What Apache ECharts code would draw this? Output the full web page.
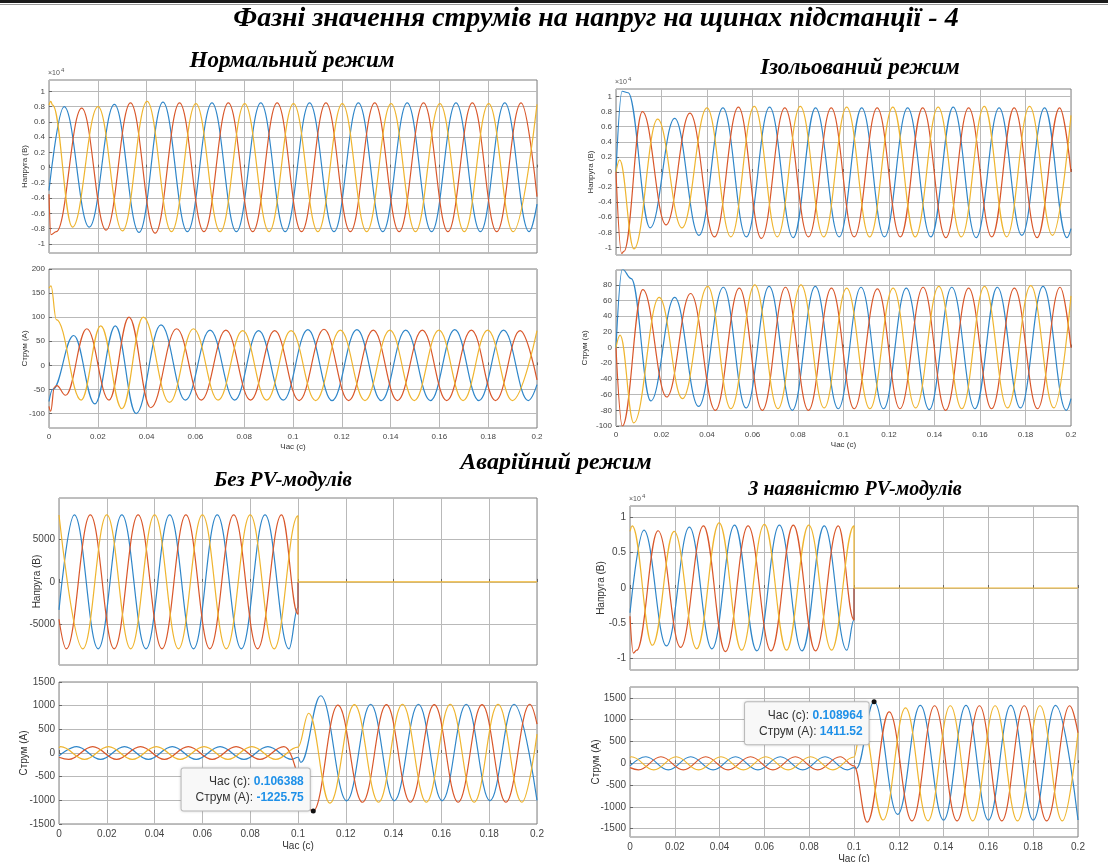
<!DOCTYPE html>
<html>
<head>
<meta charset="utf-8">
<title>Фазні значення струмів на напруг</title>
<script src="https://cdn.jsdelivr.net/npm/echarts@6/dist/echarts.min.js"></script>
<style>
  html, body { margin: 0; padding: 0; background: #fff; }
  #chart { width: 1108px; height: 862px; }
</style>
</head>
<body>
<div id="chart"></div>
<script>
// ---- дані (екстремуми кривих, зчитані з осцилограм) ----
var timeTicks = [0, 0.02, 0.04, 0.06, 0.08, 0.1, 0.12, 0.14, 0.16, 0.18, 0.2];

// Нормальний режим, напруга (x10^4 В)
var normU_a = [[0,-0.3],[0.0062,0.8],[0.0165,-0.78],[0.0268,0.83],[0.0369,-0.85],[0.0467,0.86],[0.0567,-0.84],[0.0668,0.85],[0.0768,-0.84],[0.0868,0.85],[0.0968,-0.84],[0.1068,0.85],[0.1168,-0.84],[0.1268,0.85],[0.1368,-0.84],[0.1468,0.85],[0.1568,-0.84],[0.1668,0.85],[0.1768,-0.84],[0.1868,0.85],[0.1968,-0.84],[0.2,-0.48]];
var normU_b = [[0,-0.35],[0.0008,-0.88],[0.003,-0.84],[0.0134,0.78],[0.0234,-0.82],[0.0334,0.85],[0.0435,-0.86],[0.0535,0.85],[0.0635,-0.84],[0.0735,0.85],[0.0835,-0.84],[0.0935,0.85],[0.1035,-0.84],[0.1135,0.85],[0.1235,-0.84],[0.1335,0.85],[0.1435,-0.84],[0.1535,0.85],[0.1635,-0.84],[0.1735,0.85],[0.1835,-0.84],[0.1935,0.85],[0.2,-0.38]];
var normU_c = [[0,0.82],[0.0007,0.87],[0.0015,0.82],[0.0096,-0.78],[0.0201,0.8],[0.0301,-0.83],[0.0402,0.87],[0.0502,-0.84],[0.0602,0.84],[0.0702,-0.84],[0.0802,0.84],[0.0902,-0.84],[0.1002,0.84],[0.1102,-0.84],[0.1202,0.84],[0.1302,-0.84],[0.1402,0.84],[0.1502,-0.84],[0.1602,0.84],[0.1702,-0.84],[0.1802,0.84],[0.1902,-0.84],[0.2,0.83]];
var normUTicks = [-1, -0.8, -0.6, -0.4, -0.2, 0, 0.2, 0.4, 0.6, 0.8, 1];

// Нормальний режим, струм (А)
var normI_a = [[0,-75],[0.0015,-50],[0.0101,62],[0.0188,-80],[0.0272,82],[0.0357,-100],[0.0459,84],[0.0559,-72],[0.066,73],[0.0761,-72],[0.0859,72],[0.096,-72],[0.1061,74],[0.116,-73],[0.1262,74],[0.1362,-73],[0.1462,73],[0.1563,-73],[0.1663,74],[0.1762,-73],[0.1863,73],[0.1964,-73],[0.2,-40]];
var normI_b = [[0,-85],[0.0007,-95],[0.0022,-45],[0.0032,-42],[0.0068,-62],[0.0155,76],[0.0246,-72],[0.0328,100],[0.0417,-88],[0.0523,76],[0.0624,-72],[0.0725,73],[0.0826,-72],[0.0925,72],[0.1025,-73],[0.1127,75],[0.1228,-73],[0.1329,73],[0.1428,-73],[0.153,73],[0.163,-73],[0.1731,73],[0.183,-73],[0.1931,72],[0.2,-30]];
var normI_c = [[0,160],[0.0008,165],[0.003,95],[0.0132,-72],[0.0212,82],[0.0299,-90],[0.0386,100],[0.0494,-77],[0.0592,76],[0.0693,-72],[0.0794,72],[0.0892,-72],[0.0992,72],[0.1093,-73],[0.1194,73],[0.1295,-73],[0.1397,73],[0.1497,-73],[0.1598,73],[0.1697,-73],[0.1798,73],[0.1899,-73],[0.2,72]];
var normITicks = [-100, -50, 0, 50, 100, 150, 200];

// Ізольований режим, напруга (x10^4 В)
var isoU_a = [[0,0],[0.0027,1.07],[0.0053,1.05],[0.015,-0.74],[0.0258,0.71],[0.0365,-0.84],[0.047,0.85],[0.0573,-0.86],[0.0675,0.86],[0.0779,-0.87],[0.0877,0.85],[0.0981,-0.86],[0.108,0.85],[0.118,-0.86],[0.1282,0.85],[0.1384,-0.86],[0.1482,0.86],[0.1583,-0.87],[0.1684,0.85],[0.1784,-0.84],[0.1884,0.85],[0.1982,-0.87],[0.2,-0.75]];
var isoU_b = [[0,0],[0.0025,-1.08],[0.0035,-1.05],[0.0116,0.8],[0.022,-0.7],[0.0325,0.78],[0.0433,-0.86],[0.0538,0.86],[0.0639,-0.88],[0.0742,0.85],[0.0846,-0.86],[0.0946,0.85],[0.1047,-0.86],[0.1148,0.85],[0.125,-0.86],[0.1348,0.85],[0.145,-0.87],[0.155,0.85],[0.1652,-0.86],[0.175,0.85],[0.1851,-0.87],[0.195,0.85],[0.2,0]];
var isoU_c = [[0,0],[0.0016,0.16],[0.0079,-1.02],[0.0183,0.7],[0.029,-0.74],[0.04,0.85],[0.0505,-0.86],[0.0608,0.87],[0.0709,-0.86],[0.081,0.87],[0.0913,-0.86],[0.1014,0.86],[0.1115,-0.86],[0.1217,0.86],[0.1315,-0.86],[0.1416,0.86],[0.1518,-0.86],[0.1619,0.87],[0.1717,-0.86],[0.1818,0.87],[0.1919,-0.84],[0.2,0.75]];
var isoUTicks = [-1, -0.8, -0.6, -0.4, -0.2, 0, 0.2, 0.4, 0.6, 0.8, 1];

// Ізольований режим, струм (А)
var isoI_a = [[0,0],[0.0028,100],[0.0067,88],[0.0153,-68],[0.0258,64],[0.0363,-75],[0.0472,77],[0.0572,-77],[0.0673,78],[0.0775,-80],[0.0876,78],[0.0977,-78],[0.1077,77],[0.1176,-78],[0.1276,76],[0.1377,-79],[0.1476,77],[0.1578,-78],[0.1676,77],[0.1778,-77],[0.1877,78],[0.1979,-80],[0.2,-65]];
var isoI_b = [[0,0],[0.0028,-100],[0.0118,74],[0.0223,-63],[0.0328,69],[0.0437,-80],[0.0542,76],[0.0643,-80],[0.0745,77],[0.0846,-80],[0.0947,76],[0.1047,-78],[0.1149,75],[0.1248,-78],[0.135,77],[0.1449,-80],[0.155,76],[0.1651,-78],[0.1751,76],[0.1853,-78],[0.1952,77],[0.2,0]];
var isoI_c = [[0,0],[0.0018,16],[0.0078,-96],[0.019,64],[0.0292,-65],[0.0403,78],[0.0505,-78],[0.061,80],[0.0712,-78],[0.0813,80],[0.0915,-77],[0.1014,76],[0.1116,-78],[0.1218,76],[0.1317,-77],[0.1419,78],[0.152,-78],[0.162,78],[0.1721,-77],[0.1823,79],[0.1925,-77],[0.2,66]];
var isoITicks = [-100, -80, -60, -40, -20, 0, 20, 40, 60, 80];

// Аварійний режим без PV, напруга (В); після 0.1 с напруга нульова
var avU_a = [[0,-3300],[0.0064,7900],[0.0164,-7900],[0.0263,7900],[0.0364,-7900],[0.0463,7900],[0.0563,-7900],[0.0662,7900],[0.0763,-7900],[0.0862,7900],[0.0962,-7900],[0.1,-3000],[0.1,0]];
var avU_b = [[0,-4400],[0.0031,-7900],[0.0131,7900],[0.0231,-7900],[0.0331,7900],[0.0431,-7900],[0.0531,7900],[0.0631,-7900],[0.0731,7900],[0.0831,-7900],[0.0931,7900],[0.1,-3800],[0.1,0]];
var avU_c = [[0,7900],[0.01,-7900],[0.02,7900],[0.03,-7900],[0.04,7900],[0.05,-7900],[0.06,7900],[0.07,-7900],[0.08,7900],[0.09,-7900],[0.1,7800],[0.1,0],[0.2,0]];
var avUTicks = [-5000, 0, 5000];

// Аварійний режим без PV, струм (А)
var avI_a = [[0,-60],[0.0074,135],[0.0174,-135],[0.0274,135],[0.0374,-135],[0.0474,135],[0.0574,-135],[0.0674,135],[0.0774,-135],[0.0874,135],[0.0974,-135],[0.1,-90],[0.1012,-200],[0.1095,1210],[0.1204,-1010],[0.1304,1030],[0.1403,-1010],[0.1504,1030],[0.1603,-1010],[0.1704,1030],[0.1803,-1010],[0.1904,1030],[0.2,-1000]];
var avI_b = [[0,-90],[0.0041,-135],[0.0141,135],[0.0241,-135],[0.0341,135],[0.0441,-135],[0.0541,135],[0.0641,-135],[0.0741,135],[0.0841,-135],[0.0941,135],[0.106388,-1225.75],[0.1167,1010],[0.127,-1040],[0.137,1020],[0.147,-1040],[0.157,1020],[0.167,-1040],[0.177,1020],[0.187,-1040],[0.197,1030],[0.2,610]];
var avI_c = [[0,110],[0.0007,135],[0.0107,-135],[0.0207,135],[0.0307,-135],[0.0407,135],[0.0507,-135],[0.0607,135],[0.0707,-135],[0.0807,135],[0.0907,-135],[0.1,125],[0.1045,840],[0.1133,-1060],[0.1236,1020],[0.1337,-1040],[0.1437,1030],[0.1537,-1040],[0.1637,1030],[0.1737,-1040],[0.1837,1030],[0.1937,-1040],[0.2,400]];
var avITicks = [-1500, -1000, -500, 0, 500, 1000, 1500];
var avTip = [0.106388, -1225.75];

// Аварійний режим з PV, напруга (x10^4 В)
var pvU_a = [[0,-0.35],[0.0062,0.82],[0.0163,-0.82],[0.0265,0.86],[0.0366,-0.86],[0.0467,0.89],[0.0566,-0.89],[0.0667,0.89],[0.0768,-0.89],[0.0867,0.88],[0.0968,-0.88],[0.1,-0.45],[0.1,0]];
var pvU_b = [[0,-0.4],[0.0015,-0.92],[0.003,-0.88],[0.0125,0.81],[0.0226,-0.84],[0.0328,0.88],[0.0426,-0.9],[0.0527,0.88],[0.063,-0.89],[0.0729,0.89],[0.0828,-0.89],[0.093,0.88],[0.1,-0.45],[0.1,0]];
var pvU_c = [[0,0.8],[0.001,0.88],[0.01,-0.81],[0.0197,0.8],[0.0298,-0.86],[0.0398,0.92],[0.0498,-0.88],[0.06,0.9],[0.0699,-0.88],[0.0798,0.89],[0.09,-0.88],[0.1,0.88],[0.1,0],[0.2,0]];
var pvUTicks = [-1, -0.5, 0, 0.5, 1];

// Аварійний режим з PV, струм (А)
var pvI_a = [[0,-60],[0.0071,150],[0.0171,-150],[0.0271,150],[0.0371,-150],[0.0471,150],[0.0571,-150],[0.0671,150],[0.0771,-150],[0.0871,150],[0.0971,-150],[0.1,-100],[0.101,-120],[0.108964,1411.52],[0.1195,-1170],[0.1296,1330],[0.14,-1300],[0.15,1330],[0.16,-1300],[0.17,1330],[0.18,-1300],[0.19,1330],[0.2,-1300]];
var pvI_b = [[0,-100],[0.0038,-150],[0.0138,150],[0.0238,-150],[0.0338,150],[0.0438,-150],[0.0538,150],[0.0638,-150],[0.0738,150],[0.0838,-150],[0.0938,150],[0.1,-60],[0.1059,-1350],[0.1157,1180],[0.1259,-1320],[0.136,1320],[0.146,-1320],[0.156,1320],[0.166,-1320],[0.176,1320],[0.186,-1320],[0.1963,1320],[0.2,700]];
var pvI_c = [[0,130],[0.0006,150],[0.0106,-150],[0.0206,150],[0.0306,-150],[0.0406,150],[0.0506,-150],[0.0606,150],[0.0706,-150],[0.0806,150],[0.0906,-150],[0.1,145],[0.1035,1000],[0.113,-1300],[0.123,1270],[0.133,-1320],[0.143,1320],[0.153,-1320],[0.163,1320],[0.173,-1320],[0.183,1320],[0.193,-1320],[0.2,700]];
var pvITicks = [-1500, -1000, -500, 0, 500, 1000, 1500];
var pvTip = [0.108964, 1411.52];

// ---- оформлення ----
var phaseColors = ['#2f86c9', '#d9572a', '#efb52f'];
var sans = '"Liberation Sans", Arial, sans-serif';
var serif = '"Liberation Serif", "Times New Roman", serif';
var gridColor = '#b9b9b9';

var panels = [
    { left: 49,  top: 80,  width: 488, height: 173, ymin: -1.12, ymax: 1.15, ticks: normUTicks, yName: 'Напруга (В)', gap: 20, fs: 8,  xName: false, lines: [normU_a, normU_b, normU_c] },
    { left: 49,  top: 269, width: 488, height: 159, ymin: -130,  ymax: 200,  ticks: normITicks, yName: 'Струм (А)',   gap: 20, fs: 8,  xName: true,  lines: [normI_a, normI_b, normI_c] },
    { left: 616, top: 89,  width: 455, height: 166, ymin: -1.1,  ymax: 1.1,  ticks: isoUTicks,  yName: 'Напруга (В)', gap: 21, fs: 8,  xName: false, lines: [isoU_a, isoU_b, isoU_c] },
    { left: 616, top: 270, width: 455, height: 156, ymin: -100,  ymax: 99,   ticks: isoITicks,  yName: 'Струм (а)',   gap: 27, fs: 8,  xName: true,  lines: [isoI_a, isoI_b, isoI_c] },
    { left: 59,  top: 498, width: 478, height: 167, ymin: -9800, ymax: 9900, ticks: avUTicks,   yName: 'Напруга (В)', gap: 17, fs: 10, xName: false, lines: [avU_a, avU_b, avU_c] },
    { left: 59,  top: 682, width: 478, height: 142, ymin: -1500, ymax: 1500, ticks: avITicks,   yName: 'Струм (А)',   gap: 30, fs: 10, xName: true,  lines: [avI_a, avI_b, avI_c], tip: avTip, tipPhase: 1, tipPos: [-1, 2], tipV: 'bottom' },
    { left: 630, top: 506, width: 448, height: 164, ymin: -1.16, ymax: 1.16, ticks: pvUTicks,   yName: 'Напруга (В)', gap: 24, fs: 10, xName: false, lines: [pvU_a, pvU_b, pvU_c] },
    { left: 630, top: 687, width: 448, height: 150, ymin: -1690, ymax: 1750, ticks: pvITicks,   yName: 'Струм (А)',   gap: 29, fs: 10, xName: true,  lines: [pvI_a, pvI_b, pvI_c], tip: pvTip, tipPhase: 0, tipPos: [-3, 3], tipV: 'top' }
];

var grids = [], xAxes = [], yAxes = [], series = [];

panels.forEach(function (p, i) {
    grids.push({
        left: p.left, top: p.top, width: p.width, height: p.height,
        show: true, backgroundColor: '#fff', borderColor: '#7f7f7f', borderWidth: 1,
        containLabel: false, outerBoundsMode: 'none'
    });
    xAxes.push({
        type: 'value', gridIndex: i, min: 0, max: 0.2,
        axisLine: { show: false },
        axisTick: { show: true, inside: true, length: 3, customValues: timeTicks, lineStyle: { color: '#666' } },
        axisLabel: {
            show: p.xName, customValues: timeTicks, fontSize: p.fs, color: '#444', fontFamily: sans, margin: 5,
            formatter: function (v) { return String(+v.toFixed(2)); }
        },
        splitLine: { show: true, lineStyle: { color: gridColor, width: 1 } },
        name: p.xName ? 'Час (с)' : '', nameLocation: 'middle', nameGap: p.fs + 7, nameMoveOverlap: false,
        nameTextStyle: { fontSize: p.fs, color: '#333', fontFamily: sans }
    });
    yAxes.push({
        type: 'value', gridIndex: i, min: p.ymin, max: p.ymax,
        axisLine: { show: false },
        axisTick: { show: true, inside: true, length: 3, customValues: p.ticks, lineStyle: { color: '#666' } },
        axisLabel: {
            customValues: p.ticks, fontSize: p.fs, color: '#444', fontFamily: sans, margin: 4,
            formatter: function (v) { return String(v); }
        },
        splitLine: { show: true, lineStyle: { color: gridColor, width: 1 } },
        name: p.yName, nameLocation: 'middle', nameGap: p.gap, nameMoveOverlap: false,
        nameTextStyle: { fontSize: p.fs, color: '#333', fontFamily: sans }
    });
    p.lines.forEach(function (data, k) {
        var s = {
            type: 'line', xAxisIndex: i, yAxisIndex: i, data: data,
            smooth: 0.4, smoothMonotone: 'x', symbol: 'none', silent: true,
            lineStyle: { color: phaseColors[k], width: 1.2 },
            itemStyle: { color: phaseColors[k] }
        };
        if (p.tip && p.tipPhase === k) {
            s.markPoint = {
                symbol: 'circle', symbolSize: 5, silent: true,
                itemStyle: { color: '#111' },
                data: [{
                    coord: p.tip,
                    label: {
                        show: true, position: p.tipPos, align: 'right', verticalAlign: p.tipV,
                        formatter: '{k|Час (с):} {v|' + p.tip[0] + '}\n{k|' + p.yName + ':} {v|' + p.tip[1] + '}',
                        backgroundColor: '#f8f8f8', borderColor: '#c4c4c4', borderWidth: 1, borderRadius: 2,
                        padding: [5, 6, 5, 14], lineHeight: 16,
                        shadowColor: 'rgba(0,0,0,0.15)', shadowBlur: 3,
                        rich: {
                            k: { fontSize: 12, color: '#333', fontFamily: sans },
                            v: { fontSize: 12, color: '#1e90e8', fontWeight: 'bold', fontFamily: sans }
                        }
                    }
                }]
            };
        }
        series.push(s);
    });
});

function title(text, x, y, size) {
    return {
        type: 'text', x: x, y: y, silent: true,
        style: { text: text, font: 'italic bold ' + size + 'px ' + serif, fill: '#000',
                 textAlign: 'center', align: 'center', textVerticalAlign: 'middle', verticalAlign: 'middle' }
    };
}
function exponent(x, y) {
    return [
        { type: 'text', x: x, y: y, silent: true, style: { text: '×10', font: '7px ' + sans, fill: '#555' } },
        { type: 'text', x: x + 13, y: y - 3, silent: true, style: { text: '4', font: '6px ' + sans, fill: '#555' } }
    ];
}

var graphics = [
    { type: 'rect', silent: true, shape: { x: 0, y: 0, width: 1108, height: 3 }, style: { fill: '#1a1a1a' } },
    { type: 'rect', silent: true, shape: { x: 0, y: 4, width: 1108, height: 1 }, style: { fill: '#999' } },
    title('Фазні значення струмів на напруг на щинах підстанції - 4', 596, 19, 28),
    title('Нормальний режим', 292, 61, 23),
    title('Ізольований режим', 860, 68, 23),
    title('Аварійний режим', 556, 463, 24),
    title('Без PV-модулів', 283, 481, 21),
    title('З наявністю PV-модулів', 855, 490, 20)
].concat(exponent(48, 70), exponent(615, 79), exponent(629, 496));

var chart = echarts.init(document.getElementById('chart'), null, { renderer: 'canvas' });
chart.setOption({
    animation: false,
    backgroundColor: '#fff',
    grid: grids,
    xAxis: xAxes,
    yAxis: yAxes,
    series: series,
    graphic: graphics
});
</script>
</body>
</html>
